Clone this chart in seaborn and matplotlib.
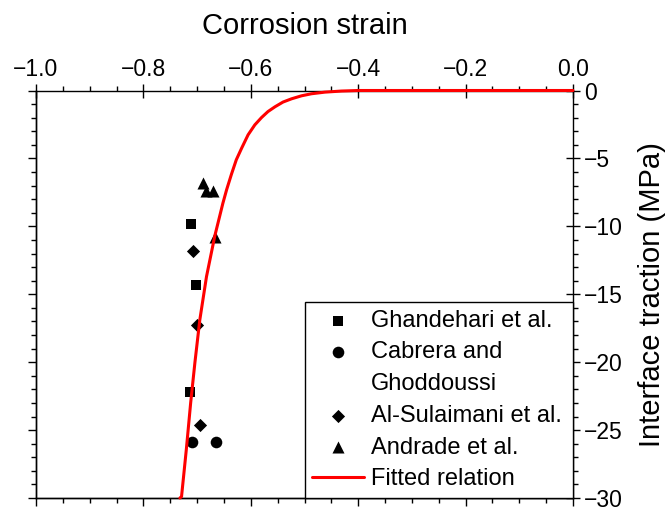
import matplotlib
matplotlib.use("Agg")
import matplotlib.pyplot as plt
import seaborn as sns
from matplotlib.ticker import MultipleLocator
from matplotlib.lines import Line2D

# ---- data ----
ghandehari_strain = [-0.712, -0.702, -0.713]
ghandehari_traction = [-9.8, -14.3, -22.2]

cabrera_strain = [-0.709, -0.665]
cabrera_traction = [-25.9, -25.9]

sulaimani_strain = [-0.707, -0.701, -0.695]
sulaimani_traction = [-11.8, -17.3, -24.6]

andrade_strain = [-0.689, -0.683, -0.671, -0.667]
andrade_traction = [-6.8, -7.4, -7.4, -10.8]

fit_strain = [-0.732, -0.729, -0.720, -0.712, -0.704, -0.695, -0.6825, -0.667,
              -0.652, -0.645, -0.636, -0.627, -0.617, -0.605, -0.5925, -0.580,
              -0.568, -0.555, -0.540, -0.524, -0.5055, -0.487, -0.462, -0.431,
              -0.400, -0.300, -0.200, -0.100, 0.0]
fit_traction = [-30.0, -29.9, -26.4, -23.0, -20.0, -16.9, -13.7, -10.7,
                -8.3, -7.3, -6.16, -5.10, -4.24, -3.26, -2.53, -1.99,
                -1.55, -1.20, -0.85, -0.61, -0.39, -0.24, -0.12, -0.04,
                0.0, 0.0, 0.0, 0.0, 0.0]

labels = ["Ghandehari et al.", "Cabrera and", "Ghoddoussi",
          "Al-Sulaimani et al.", "Andrade et al.", "Fitted relation"]

x_ticks = [-1.0, -0.8, -0.6, -0.4, -0.2, 0.0]
y_ticks = [0, -5, -10, -15, -20, -25, -30]

# ---- style ----
sns.set_theme(style="white")
plt.rcParams["font.family"] = ["Liberation Sans", "DejaVu Sans"]
plt.rcParams["axes.unicode_minus"] = True

fig = plt.figure(figsize=(6.66, 5.08), dpi=100)
ax = fig.add_axes([36 / 666, 10 / 508, 537 / 666, 407.5 / 508])

sns.lineplot(x=fit_strain, y=fit_traction, ax=ax, color="red", lw=2.2,
             sort=False, estimator=None, label=labels[5], clip_on=False, zorder=5)
sns.scatterplot(x=ghandehari_strain, y=ghandehari_traction, ax=ax, marker="s",
                color="black", s=55, edgecolor="black", linewidth=0, label=labels[0], zorder=4)
sns.scatterplot(x=cabrera_strain, y=cabrera_traction, ax=ax, marker="o",
                color="black", s=70, edgecolor="black", linewidth=0, label=labels[1], zorder=4)
sns.scatterplot(x=sulaimani_strain, y=sulaimani_traction, ax=ax, marker="D",
                color="black", s=45, edgecolor="black", linewidth=0, label=labels[3], zorder=4)
sns.scatterplot(x=andrade_strain, y=andrade_traction, ax=ax, marker="^",
                color="black", s=75, edgecolor="black", linewidth=0, label=labels[4], zorder=4)

ax.set_xlim(-1.0, 0.0)
ax.set_ylim(-30, 0)
ax.set_xticks(x_ticks)
ax.set_yticks(y_ticks)
ax.xaxis.set_minor_locator(MultipleLocator(0.05))
ax.yaxis.set_minor_locator(MultipleLocator(1))

ax.xaxis.set_label_position("top")
ax.yaxis.set_label_position("right")
ax.tick_params(which="both", top=True, bottom=False, left=False, right=True,
               labeltop=True, labelbottom=False, labelleft=False, labelright=True,
               color="black")
ax.tick_params(which="major", direction="inout", length=10, width=1,
               labelsize=16.5, labelcolor="black")
ax.tick_params(axis="x", which="major", pad=2)
ax.tick_params(axis="y", which="major", pad=3)
ax.tick_params(which="minor", direction="out", length=3.5, width=1)

# outward-only ticks on the bottom and left spines
secx = ax.secondary_xaxis("bottom")
secx.set_xticks(x_ticks)
secx.xaxis.set_minor_locator(MultipleLocator(0.05))
secx.tick_params(which="both", direction="out", labelbottom=False, color="black", width=1)
secx.tick_params(which="major", length=6)
secx.tick_params(which="minor", length=3.5)
secx.spines["bottom"].set_color("black")
secx.spines["bottom"].set_linewidth(1.0)

secy = ax.secondary_yaxis("left")
secy.set_yticks(y_ticks)
secy.yaxis.set_minor_locator(MultipleLocator(1))
secy.tick_params(which="both", direction="out", labelleft=False, color="black", width=1)
secy.tick_params(which="major", length=6)
secy.tick_params(which="minor", length=3.5)
secy.spines["left"].set_color("black")
secy.spines["left"].set_linewidth(1.0)

for sp in ax.spines.values():
    sp.set_visible(True)
    sp.set_color("black")
    sp.set_linewidth(1.0)

ax.set_xlabel("Corrosion strain", fontsize=21, labelpad=17, color="black")
ax.set_ylabel("Interface traction (MPa)", fontsize=21, labelpad=11, color="black",
              rotation=90)
ax.grid(False)

handles, labs = ax.get_legend_handles_labels()
hmap = dict(zip(labs, handles))
blank = Line2D([], [], linestyle="none", marker=None)
leg_handles = [hmap[labels[0]], hmap[labels[1]], blank,
               hmap[labels[3]], hmap[labels[4]], hmap[labels[5]]]
leg = ax.legend(leg_handles, labels,
                loc="lower left", bbox_to_anchor=(0.5, 0.0, 0.5, 1.0), mode="expand",
                borderaxespad=0, frameon=True, fancybox=False, edgecolor="black",
                framealpha=1, fontsize=17, handlelength=2.2, handletextpad=0.3,
                labelspacing=0.41, borderpad=0.33)
leg.get_frame().set_linewidth(1.0)
for t in leg.get_texts():
    t.set_color("black")

fig.savefig("out.png", dpi=100)
